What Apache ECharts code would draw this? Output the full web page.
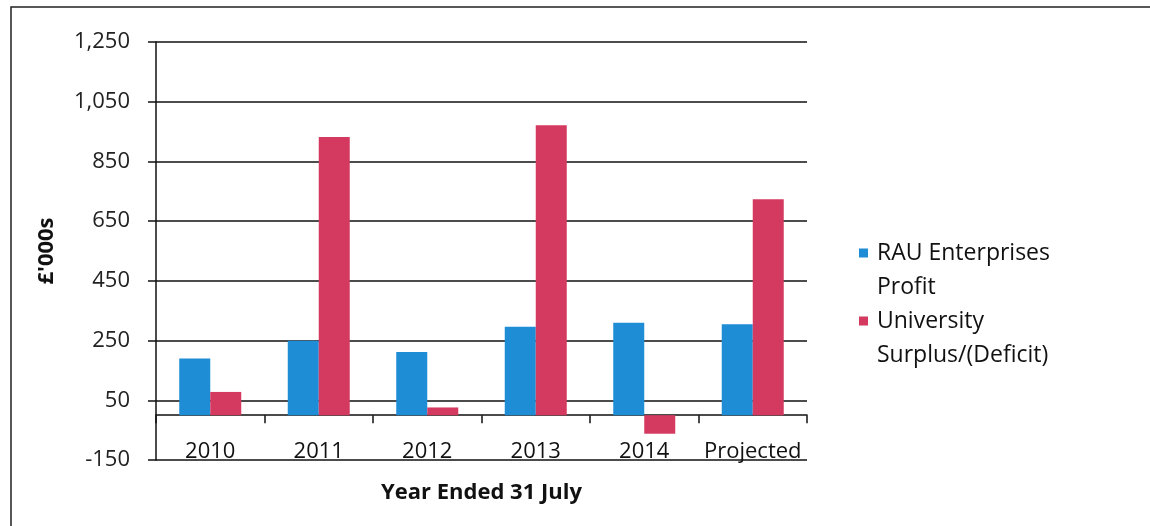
<!DOCTYPE html>
<html>
<head>
<meta charset="utf-8">
<script src="https://cdn.jsdelivr.net/npm/echarts@6/dist/echarts.min.js"></script>
<style>html,body{margin:0;padding:0;background:#fff}#c{width:1150px;height:526px}</style>
</head>
<body>
<div id="c"></div>
<script>
var categories = ['2010', '2011', '2012', '2013', '2014', 'Projected'];
var rauProfit = [190, 249, 212, 296, 310, 305];
var uniSurplus = [78, 932, 26, 971, -62, 723];
var seriesNames = ['RAU Enterprises\nProfit', 'University\nSurplus/(Deficit)'];
var yMin = -150, yMax = 1250, yStep = 200;

var FONT = 'Open Sans';
var chart = echarts.init(document.getElementById('c'), null, {renderer: 'canvas'});
var iconPath = 'path://M0,0h9v9h-9z M0,43h0.01v0.01h-0.01z';
chart.setOption({
  animation: false,
  backgroundColor: '#fff',
  textStyle: {fontFamily: FONT},
  graphic: [{
    type: 'rect', shape: {x: 11, y: 7, width: 1300, height: 700},
    style: {fill: 'none', stroke: '#222', lineWidth: 1.5}, silent: true
  }],
  grid: {left: 156, right: 343, top: 42, bottom: 66, containLabel: false, outerBoundsMode: 'none'},
  legend: {
    orient: 'vertical', left: 854, top: 231, itemGap: 0,
    itemWidth: 9, itemHeight: 43,
    data: [{name: seriesNames[0], icon: iconPath}, {name: seriesNames[1], icon: iconPath}],
    textStyle: {fontFamily: FONT, fontSize: 23, color: '#111', lineHeight: 34, padding: [0, 0, 0, 4]}
  },
  xAxis: {
    type: 'category', data: categories,
    name: 'Year Ended 31 July', nameLocation: 'middle', nameGap: 22, nameMoveOverlap: false,
    nameTextStyle: {fontFamily: FONT, fontSize: 22, fontWeight: 'bold', color: '#111'},
    axisLine: {onZero: true, lineStyle: {color: '#111', width: 1.5}},
    axisTick: {show: true, interval: 0, length: 8, inside: false, lineStyle: {color: '#111', width: 1.5}},
    axisLabel: {fontFamily: FONT, fontSize: 22, color: '#111', margin: -19, interval: 0}
  },
  yAxis: {
    type: 'value', min: yMin, max: yMax, interval: yStep,
    name: "£'000s", nameLocation: 'middle', nameGap: 98, nameRotate: 90, nameMoveOverlap: false,
    nameTextStyle: {fontFamily: FONT, fontSize: 22, fontWeight: 'bold', color: '#111'},
    axisLine: {show: true, lineStyle: {color: '#111', width: 1.5}},
    axisTick: {show: true, length: 8, lineStyle: {color: '#111', width: 1.5}},
    splitLine: {show: true, lineStyle: {color: '#111', width: 1.5}},
    axisLabel: {fontFamily: FONT, fontSize: 22, color: '#222', margin: 26,
      formatter: function (v) { return v.toLocaleString('en-US'); }}
  },
  series: [
    {name: seriesNames[0], type: 'bar', data: rauProfit, barWidth: 31, barGap: '0%',
      itemStyle: {color: '#1E8DD6'}},
    {name: seriesNames[1], type: 'bar', data: uniSurplus, barWidth: 31, barGap: '0%',
      itemStyle: {color: '#D43A60'}}
  ]
});
</script>
</body>
</html>
